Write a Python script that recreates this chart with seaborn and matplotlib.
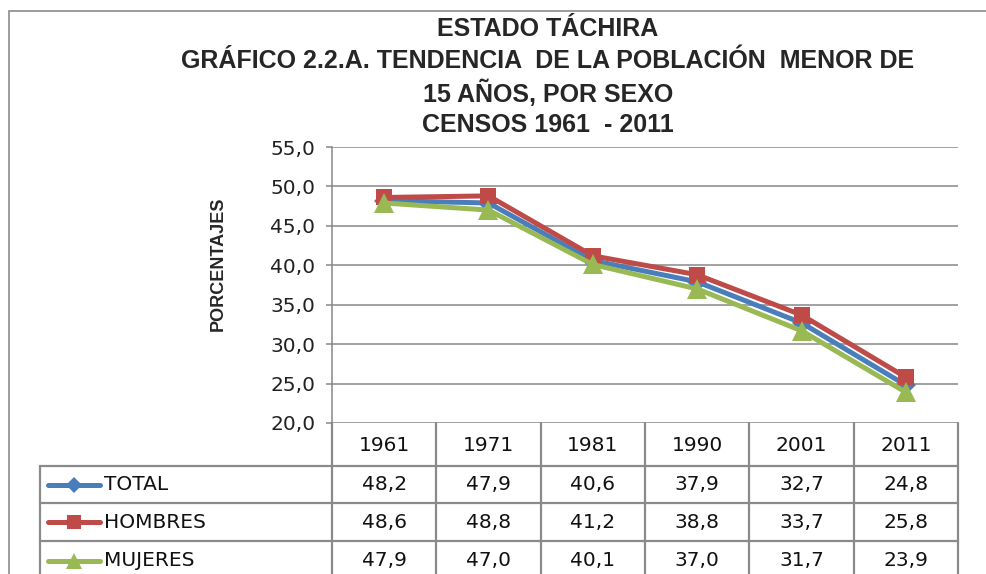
import matplotlib
matplotlib.use("Agg")
import matplotlib.pyplot as plt
import matplotlib.transforms as mtransforms
from matplotlib.lines import Line2D
import numpy as np
import pandas as pd
import seaborn as sns

# data
years = ["1961", "1971", "1981", "1990", "2001", "2011"]
total = [48.2, 47.9, 40.6, 37.9, 32.7, 24.8]
hombres = [48.6, 48.8, 41.2, 38.8, 33.7, 25.8]
mujeres = [47.9, 47.0, 40.1, 37.0, 31.7, 23.9]

series = {"TOTAL": total, "HOMBRES": hombres, "MUJERES": mujeres}
colors = {"TOTAL": "#4A7EBB", "HOMBRES": "#BE4B48", "MUJERES": "#98B954"}
markers = {"TOTAL": "D", "HOMBRES": "s", "MUJERES": "^"}
msizes = {"TOTAL": 10, "HOMBRES": 12, "MUJERES": 14}

title_lines = [
    "ESTADO TÁCHIRA",
    "GRÁFICO 2.2.A. TENDENCIA  DE LA POBLACIÓN  MENOR DE",
    "15 AÑOS, POR SEXO",
    "CENSOS 1961  - 2011",
]

sns.set_theme(style="white")
plt.rcParams["font.family"] = ["DejaVu Sans"]
title_font = ["Liberation Sans", "DejaVu Sans"]
fs = 14.5

W, H = 987, 574
grid_col = "#878787"

df = pd.DataFrame(
    [(i, y, name, v) for name, vals in series.items() for i, (y, v) in enumerate(zip(years, vals))],
    columns=["pos", "year", "serie", "valor"],
)

fig = plt.figure(figsize=(W / 100, H / 100), dpi=100)

# overlay in pixel coordinates for frame and table
ov = fig.add_axes([0, 0, 1, 1])
ov.set_xlim(0, W)
ov.set_ylim(H, 0)
ov.axis("off")
ov.patch.set_alpha(0)

# plot area
left, right, top, bottom = 332, 958, 147, 423
ax = fig.add_axes([left / W, 1 - bottom / H, (right - left) / W, (bottom - top) / H])
ax.patch.set_alpha(0)

for name in series:
    sub = df[df["serie"] == name]
    sns.lineplot(
        data=sub, x="pos", y="valor", ax=ax, color=colors[name],
        marker=markers[name], markersize=msizes[name], markeredgewidth=0,
        linewidth=3.6, sort=False, legend=False,
    )

ax.set_xlim(-0.5, len(years) - 0.5)
ax.set_ylim(20, 55)
yt = np.arange(20, 56, 5)
ax.set_yticks(yt)
ax.set_yticklabels([f"{v:.1f}".replace(".", ",") for v in yt], fontsize=fs, color="#222222")
ax.set_xticks([])
ax.set_xlabel("")
ax.set_ylabel("")
for v in yt:
    ax.axhline(v, color=grid_col, lw=1.1, zorder=0)
for s in ["top", "right", "bottom"]:
    ax.spines[s].set_visible(False)
ax.spines["left"].set_color(grid_col)
ax.spines["left"].set_linewidth(1.1)
ax.tick_params(axis="y", left=True, length=4, width=1.1, color=grid_col, pad=8)

# title
for k, line in enumerate(title_lines):
    fig.text(548 / W, 1 - (29 + 32 * k) / H, line, ha="center", va="center",
             fontsize=18, fontweight="bold", family=title_font)

fig.text(218 / W, 1 - 264 / H, "PORCENTAJES", rotation=90, ha="center", va="center",
         fontsize=13, fontweight="bold", family=title_font)

# outer frame
ov.plot([9, 9, W], [H, 11, 11], color="#8c8c8c", lw=1.2, solid_joinstyle="miter")

# data table below the plot
tr = mtransforms.blended_transform_factory(ax.transData, ov.transData)
edges = np.arange(len(years) + 1) - 0.5
row_y = [423, 466, 503, 541, 580]
tcol = "#8a8a8a"
for e in edges:
    ov.plot([e, e], [row_y[0], H], color=tcol, lw=1.6, transform=tr, clip_on=False)
ov.plot([40, 40], [row_y[1], H], color=tcol, lw=1.6)
for yy in row_y[1:4]:
    ov.plot([40, right], [yy, yy], color=tcol, lw=1.6)

for i, yr in enumerate(years):
    ov.text(i, (row_y[0] + row_y[1]) / 2 + 1, yr, ha="center", va="center",
            fontsize=fs, color="#111111", transform=tr)

for r, (name, vals) in enumerate(series.items()):
    yc = (row_y[r + 1] + row_y[r + 2]) / 2
    for i, v in enumerate(vals):
        ov.text(i, yc, f"{v:.1f}".replace(".", ","), ha="center", va="center",
                fontsize=fs, color="#111111", transform=tr)
    ov.add_line(Line2D([48, 100], [yc, yc], color=colors[name], lw=3.6,
                       solid_capstyle="round"))
    ov.add_line(Line2D([74], [yc], color=colors[name], marker=markers[name],
                       markersize=msizes[name] * 0.85, markeredgewidth=0))
    ov.text(104, yc, name, ha="left", va="center", fontsize=fs, color="#111111")

fig.savefig("out.png", dpi=100)
